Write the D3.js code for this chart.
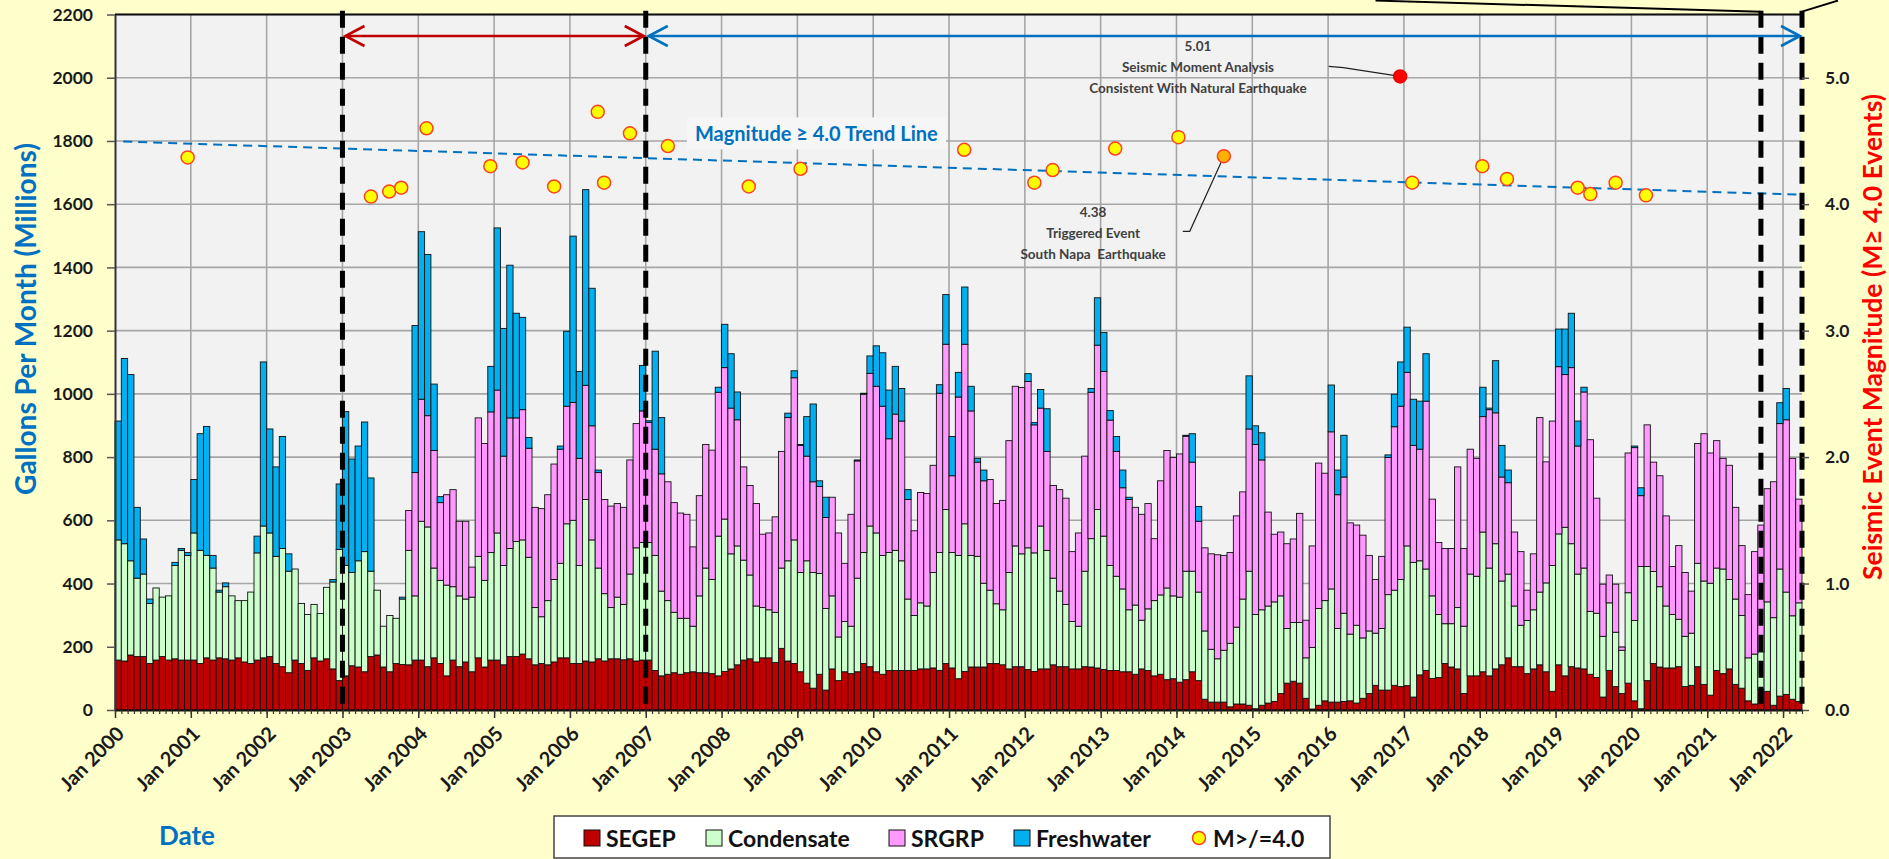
<!DOCTYPE html>
<html>
<head>
<meta charset="utf-8">
<script src="https://cdn.jsdelivr.net/npm/d3@7"></script>
<style>
    body { margin: 0; background: #ffffcc; }
    svg { display: block; }
    text { font-family: Lato, 'Open Sans', sans-serif; font-weight: bold; }
</style>
</head>
<body>
<svg id="chart" width="1889" height="859"></svg>
<script>
const yearLabels = d3.range(2000, 2023).map(y => 'Jan ' + y);

// Monthly volumes, Jan 2000 - Mar 2022 (millions of gallons)
const segep = [
    158,155,174,169,169,147,158,169,158,162,158,158,
    158,147,165,158,165,162,158,165,152,147,158,165,
    169,147,137,118,158,147,125,165,155,162,130,93,
    108,140,136,121,169,174,136,121,147,144,143,158,
    158,137,165,147,108,158,137,152,121,165,136,158,
    158,143,169,169,177,162,143,147,143,152,165,165,
    147,147,155,152,162,155,162,162,159,162,155,158,
    158,125,108,113,118,113,118,121,118,118,115,108,
    122,130,143,158,162,152,165,165,150,195,155,147,
    121,85,69,113,63,130,93,121,115,121,147,137,
    121,113,125,125,125,125,125,130,130,133,125,147,
    133,99,122,136,136,136,147,147,143,130,137,137,
    128,122,130,130,143,137,137,130,130,137,136,133,
    128,125,125,121,121,113,130,125,108,113,96,99,
    88,96,121,93,34,25,25,25,10,19,19,15,
    4,15,22,27,52,85,91,85,37,3,15,29,
    25,25,27,29,22,37,52,78,63,63,78,74,
    77,41,111,125,100,103,147,136,130,52,108,108,
    121,108,130,143,165,137,137,115,130,143,121,59,
    143,108,137,133,130,113,103,41,125,74,52,85,
    29,4,93,147,136,133,133,137,74,78,137,81,
    47,125,115,130,81,69,29,19,66,59,15,44,
    49,34,27
];

const condensate = [
    380,371,298,248,261,190,228,188,203,295,347,331,
    402,358,324,291,208,228,203,181,194,226,339,417,
    391,339,374,321,288,190,177,169,150,226,275,415,
    349,295,336,380,270,205,129,178,143,207,362,203,
    439,442,284,263,287,232,224,199,236,321,274,340,
    402,314,342,364,361,321,181,148,203,261,299,424,
    453,310,511,386,287,213,162,195,175,268,358,372,
    372,364,268,233,191,177,172,144,243,331,298,442,
    482,364,376,316,265,177,159,152,159,254,317,391,
    314,387,366,319,258,231,138,159,150,296,351,445,
    439,376,373,380,347,226,174,209,199,302,373,487,
    365,390,467,353,350,265,232,189,174,305,382,357,
    385,375,452,375,274,239,197,150,135,302,406,501,
    422,332,298,262,196,219,154,195,238,251,290,262,
    269,343,318,280,216,167,137,164,201,243,332,424,
    298,302,307,315,309,173,186,192,128,195,306,317,
    358,233,279,211,246,191,198,165,195,302,301,339,
    442,426,361,321,261,199,126,137,194,213,322,315,
    442,341,396,265,265,192,131,168,187,230,281,398,
    414,470,389,297,319,199,203,192,214,172,137,286,
    254,450,361,291,254,196,169,150,159,165,327,327,
    354,324,331,283,270,230,136,158,118,283,277,402,
    324,264,312
];

const srgrp = [
    0,0,0,0,0,0,0,0,0,0,0,0,
    0,0,0,0,0,0,0,0,0,0,0,0,
    0,0,0,0,0,0,0,0,0,0,0,0,
    0,0,0,0,0,0,0,0,0,0,126,390,
    386,352,372,246,286,307,236,246,95,438,433,445,
    452,346,413,391,412,345,317,342,335,365,361,372,
    373,339,361,361,302,298,321,296,307,361,393,416,
    380,336,371,376,347,333,329,251,317,391,409,455,
    479,461,399,295,283,324,232,243,302,369,453,513,
    402,331,287,275,288,312,329,184,354,371,501,483,
    464,472,360,431,442,315,268,349,356,339,504,523,
    243,501,568,457,298,324,350,317,346,417,505,526,
    526,405,373,313,293,321,336,221,295,364,463,520,
    521,460,395,320,349,309,335,333,196,361,435,438,
    453,427,345,224,263,302,329,300,287,352,339,450,
    538,474,297,214,202,268,264,345,119,321,460,403,
    497,423,431,352,317,325,239,170,228,434,517,548,
    549,370,353,531,306,228,238,238,445,246,395,373,
    365,501,414,329,289,234,233,96,177,552,383,457,
    529,483,557,405,557,543,364,165,88,152,10,442,
    547,224,448,346,351,285,152,233,202,133,379,466,
    412,403,350,361,290,221,200,324,401,358,430,460,
    545,498,328
];

const freshwater = [
    376,586,589,224,111,14,0,0,0,10,6,9,
    169,369,408,40,6,12,0,0,0,0,53,519,
    329,283,354,55,0,0,0,0,0,0,8,207,
    487,359,363,410,295,0,0,0,0,6,0,465,
    530,510,210,19,0,0,0,0,0,0,0,144,
    513,404,483,331,292,34,0,0,0,0,10,237,
    526,275,619,435,8,0,0,0,0,0,0,144,
    5,310,178,0,0,0,0,0,0,0,0,16,
    137,172,88,0,0,0,0,0,0,0,14,22,
    3,125,246,18,64,0,0,0,0,3,3,55,
    128,169,154,151,103,31,0,0,0,0,27,157,
    124,78,181,78,12,34,0,0,0,0,0,0,
    25,7,59,135,0,0,0,0,0,0,12,150,
    123,30,47,56,7,0,0,0,0,0,0,0,
    0,3,90,47,0,0,0,0,0,0,0,168,
    59,86,0,0,0,0,0,0,0,0,0,0,
    148,78,132,0,0,0,0,0,0,8,103,140,
    143,146,152,150,0,0,0,0,0,0,0,0,
    93,5,165,100,40,0,0,0,0,0,0,0,
    119,144,172,79,15,0,0,0,0,0,0,0,
    5,25,0,0,0,0,0,0,0,0,0,0,
    0,0,0,0,0,0,0,0,0,0,0,66,
    99,0,0
];

// M >= 4.0 events: months since Jan 2000, magnitude
const quakeMonth = [11.5, 40.5, 43.4, 45.3, 49.3, 59.4, 64.5, 69.5, 76.4, 77.4, 81.5, 87.5, 100.3, 108.5,
    134.4, 145.5, 148.4, 158.3, 168.3, 175.5, 203.4, 205.3, 216.4, 220.3, 231.5, 233.5, 237.5, 242.3];
const quakeMag = [4.37, 4.06, 4.10, 4.13, 4.60, 4.30, 4.33, 4.14, 4.73, 4.17, 4.56, 4.46, 4.14, 4.28,
    4.43, 4.17, 4.27, 4.44, 4.53, 4.38, 5.01, 4.17, 4.30, 4.20, 4.13, 4.08, 4.17, 4.07];
const napaIndex = 19, naturalIndex = 20;

const trendMonth = [1.3, 266.8];
const trendMag = [4.495, 4.075];

const phaseLines = [36, 84, 260.5, 267];   // Jan 2003, Jan 2007, Sep 2021, end of data
const phaseArrows = [
    { from: 36, to: 84, color: '#c00000' },
    { from: 84, to: 267, color: '#0070c0' }
];

const keys = ['SEGEP', 'Condensate', 'SRGRP', 'Freshwater'];
const colors = ['#c00000', '#ccffcc', '#ff99ff', '#00b0f0'];

/* ===== Chart config ===== */
const chart = {
    width: 1889,
    height: 859,
    left: 115,
    right: 1802,
    top: 14.5,
    bottom: 710,
    svg: d3.select('#chart')
};

const x = d3.scaleLinear().domain([0, segep.length]).range([chart.left, chart.right]);
const y = d3.scaleLinear().domain([0, 2200]).range([chart.bottom, chart.top]);
const yMag = d3.scaleLinear().domain([0, 5.5]).range([chart.bottom, chart.top]);

const svg = chart.svg;

svg.append('rect')
    .attr('width', chart.width)
    .attr('height', chart.height)
    .attr('fill', '#ffffcc');

svg.append('rect')
    .attr('x', chart.left)
    .attr('y', chart.top)
    .attr('width', chart.right - chart.left)
    .attr('height', chart.bottom - chart.top)
    .attr('fill', '#f2f2f2');

// Gridlines
const grid = svg.append('g')
    .attr('stroke', '#a6a6a6')
    .attr('stroke-width', 1.6);
grid.selectAll('.hgrid')
    .data(d3.range(200, 2201, 200))
    .enter().append('line')
    .attr('x1', chart.left).attr('x2', chart.right)
    .attr('y1', d => y(d)).attr('y2', d => y(d));
grid.selectAll('.vgrid')
    .data(d3.range(12, segep.length, 12))
    .enter().append('line')
    .attr('x1', d => x(d)).attr('x2', d => x(d))
    .attr('y1', chart.top).attr('y2', chart.bottom);

// Trend line label (with its own background box that hides the grid)
const trendLabel = svg.append('g');
const trendText = trendLabel.append('text')
    .attr('x', x(111))
    .attr('y', yMag(4.56))
    .attr('text-anchor', 'middle')
    .attr('dominant-baseline', 'central')
    .attr('font-size', 20)
    .attr('fill', '#0070c0')
    .text('Magnitude ≥ 4.0 Trend Line');
const tb = trendText.node().getBBox();
trendLabel.insert('rect', 'text')
    .attr('x', tb.x - 8).attr('y', tb.y - 4)
    .attr('width', tb.width + 16).attr('height', tb.height + 8)
    .attr('fill', '#f6f6f6');

// Stacked bars
const rows = segep.map((d, i) => ({
    i: i,
    SEGEP: d,
    Condensate: condensate[i],
    SRGRP: srgrp[i],
    Freshwater: freshwater[i]
}));
const series = d3.stack().keys(keys)(rows);

svg.append('g').selectAll('g')
    .data(series)
    .enter().append('g')
    .attr('fill', (d, i) => colors[i])
    .selectAll('rect')
    .data(d => d.filter(p => p[1] > p[0]))
    .enter().append('rect')
    .attr('x', d => x(d.data.i))
    .attr('width', x(1) - x(0))
    .attr('y', d => y(d[1]))
    .attr('height', d => y(d[0]) - y(d[1]))
    .attr('stroke', '#111')
    .attr('stroke-width', 0.9);

// Plot top border
svg.append('line')
    .attr('x1', chart.left).attr('x2', chart.right)
    .attr('y1', chart.top).attr('y2', chart.top)
    .attr('stroke', '#111').attr('stroke-width', 2);

// Trend line
svg.append('line')
    .attr('x1', x(trendMonth[0])).attr('x2', x(trendMonth[1]))
    .attr('y1', yMag(trendMag[0])).attr('y2', yMag(trendMag[1]))
    .attr('stroke', '#0070c0')
    .attr('stroke-width', 2)
    .attr('stroke-dasharray', '9,6');

// Phase boundaries
svg.selectAll('.phase')
    .data(phaseLines)
    .enter().append('line')
    .attr('x1', d => x(d)).attr('x2', d => x(d))
    .attr('y1', y(2212)).attr('y2', y(0))
    .attr('stroke', '#000')
    .attr('stroke-width', 5)
    .attr('stroke-dasharray', '17,9');

// Callout lines leaving the top-right corner
const callouts = [
    [[199.5, 2244], [260.5, 2209]],
    [[267, 2209], [272.7, 2244]]
];
svg.selectAll('.callout')
    .data(callouts)
    .enter().append('path')
    .attr('d', d3.line().x(d => x(d[0])).y(d => y(d[1])))
    .attr('fill', 'none')
    .attr('stroke', '#000')
    .attr('stroke-width', 2);

// Double-headed phase arrows
const arrowY = y(2132);
phaseArrows.forEach(a => {
    const x1 = x(a.from) + 3, x2 = x(a.to) - 2;
    const g = svg.append('g')
        .attr('stroke', a.color)
        .attr('stroke-width', 2.6)
        .attr('fill', 'none');
    g.append('line').attr('x1', x1).attr('x2', x2).attr('y1', arrowY).attr('y2', arrowY);
    g.append('path').attr('d', `M${x1 + 19},${arrowY - 10} L${x1},${arrowY} L${x1 + 19},${arrowY + 10}`);
    g.append('path').attr('d', `M${x2 - 19},${arrowY - 10} L${x2},${arrowY} L${x2 - 19},${arrowY + 10}`);
});

// Annotations
const annotations = [
    { lines: ['5.01', 'Seismic Moment Analysis', 'Consistent With Natural Earthquake'],
      month: 171.4, mag: 5.25, leader: [[192.1, 5.09], [194.4, 5.08]], target: naturalIndex },
    { lines: ['4.38', 'Triggered Event', 'South Napa  Earthquake'],
      month: 154.8, mag: 3.94, leader: [[169.0, 3.785], [170.1, 3.785]], target: napaIndex }
];
annotations.forEach(a => {
    const pts = a.leader.concat([[quakeMonth[a.target], quakeMag[a.target]]]);
    svg.append('path')
        .attr('d', d3.line().x(d => x(d[0])).y(d => yMag(d[1]))(pts))
        .attr('fill', 'none')
        .attr('stroke', '#222')
        .attr('stroke-width', 1.2);
    svg.append('g').selectAll('text')
        .data(a.lines)
        .enter().append('text')
        .attr('x', x(a.month))
        .attr('y', (d, i) => yMag(a.mag) + i * 21)
        .attr('text-anchor', 'middle')
        .attr('dominant-baseline', 'central')
        .attr('font-family', 'DejaVu Sans')
        .attr('font-size', 13.5)
        .attr('fill', '#404040')
        .style('white-space', 'pre')
        .text(d => d);
});

// Quake markers
svg.append('g').selectAll('circle')
    .data(quakeMonth)
    .enter().append('circle')
    .attr('cx', d => x(d))
    .attr('cy', (d, i) => yMag(quakeMag[i]))
    .attr('r', 6.5)
    .attr('fill', (d, i) => i === naturalIndex ? '#ff0000' : i === napaIndex ? '#ffb000' : '#ffff00')
    .attr('stroke', (d, i) => i === naturalIndex ? '#ee0000' : '#ff4020')
    .attr('stroke-width', 1.5);

/* ===== Axes ===== */
const tickFont = g => g.selectAll('text')
    .attr('font-family', 'DejaVu Sans')
    .attr('font-weight', 'bold')
    .attr('font-size', 17.5)
    .attr('fill', '#1a1a1a');

svg.append('g')
    .attr('transform', `translate(${chart.left},0)`)
    .call(d3.axisLeft(y).tickValues(d3.range(0, 2201, 200)).tickFormat(d3.format('d'))
        .tickSize(8).tickSizeOuter(0).tickPadding(14))
    .call(g => g.select('.domain').attr('stroke', '#333').attr('stroke-width', 2))
    .call(g => g.selectAll('.tick line').attr('stroke', '#555').attr('stroke-width', 1.5))
    .call(tickFont);

svg.append('g')
    .attr('transform', `translate(${chart.right},0)`)
    .call(d3.axisRight(yMag).tickValues([0, 1, 2, 3, 4, 5]).tickFormat(d3.format('.1f'))
        .tickSize(7).tickSizeOuter(0).tickPadding(16))
    .call(g => g.select('.domain').remove())
    .call(g => g.selectAll('.tick line').attr('stroke', '#555').attr('stroke-width', 1.5))
    .call(tickFont);

// Monthly minor ticks
svg.append('g')
    .attr('transform', `translate(0,${chart.bottom})`)
    .call(d3.axisBottom(x).tickValues(d3.range(0, segep.length + 1)).tickSize(4).tickSizeOuter(0).tickFormat(''))
    .call(g => g.select('.domain').attr('stroke', '#111').attr('stroke-width', 2))
    .call(g => g.selectAll('.tick line').attr('stroke', '#333').attr('stroke-width', 1.2));

// Yearly ticks + labels
svg.append('g')
    .attr('transform', `translate(0,${chart.bottom})`)
    .call(d3.axisBottom(x).tickValues(d3.range(0, segep.length, 12)).tickSize(8).tickSizeOuter(0)
        .tickFormat((d, i) => yearLabels[i]))
    .call(g => g.select('.domain').remove())
    .call(g => g.selectAll('.tick line').attr('stroke', '#333').attr('stroke-width', 1.5))
    .call(g => g.selectAll('text')
        .attr('x', 0).attr('y', 0).attr('dy', '0.35em')
        .attr('text-anchor', 'end')
        .attr('transform', 'translate(5,20) rotate(-45)')
        .attr('font-family', 'Lato')
        .attr('font-weight', 'bold')
        .attr('font-size', 20)
        .attr('fill', '#1a1a1a'));

// Axis titles
svg.append('text')
    .attr('transform', 'translate(25,319) rotate(-90)')
    .attr('text-anchor', 'middle')
    .attr('dominant-baseline', 'central')
    .attr('font-size', 28)
    .attr('fill', '#0070c0')
    .text('Gallons Per Month (Millions)');

svg.append('text')
    .attr('transform', 'translate(1872,337) rotate(-90)')
    .attr('text-anchor', 'middle')
    .attr('dominant-baseline', 'central')
    .attr('font-size', 26.5)
    .attr('fill', '#ff0000')
    .text('Seismic Event Magnitude (M≥ 4.0 Events)');

svg.append('text')
    .attr('x', 187).attr('y', 835)
    .attr('text-anchor', 'middle')
    .attr('dominant-baseline', 'central')
    .attr('font-size', 26)
    .attr('fill', '#0070c0')
    .text('Date');

/* ===== Legend ===== */
const legend = svg.append('g');
legend.append('rect')
    .attr('x', 554).attr('y', 816)
    .attr('width', 776).attr('height', 42)
    .attr('fill', '#fff')
    .attr('stroke', '#444')
    .attr('stroke-width', 1.5);

const legendX = [584, 706, 889, 1014, 1192];
const legendLabels = keys.concat(['M>/=4.0']);
const items = legend.selectAll('.item')
    .data(legendLabels)
    .enter().append('g')
    .attr('transform', (d, i) => `translate(${legendX[i]},838)`);
items.filter((d, i) => i < 4).append('rect')
    .attr('x', 0).attr('y', -8)
    .attr('width', 16).attr('height', 16)
    .attr('fill', (d, i) => colors[i])
    .attr('stroke', '#111')
    .attr('stroke-width', 1);
items.filter((d, i) => i === 4).append('circle')
    .attr('cx', 7).attr('cy', 0).attr('r', 6.5)
    .attr('fill', '#ffff00')
    .attr('stroke', '#ff4020')
    .attr('stroke-width', 1.5);
items.append('text')
    .attr('x', (d, i) => i < 4 ? 22 : 21)
    .attr('y', 0)
    .attr('dominant-baseline', 'central')
    .attr('font-size', 23)
    .attr('fill', '#111')
    .text(d => d);
</script>
</body>
</html>
